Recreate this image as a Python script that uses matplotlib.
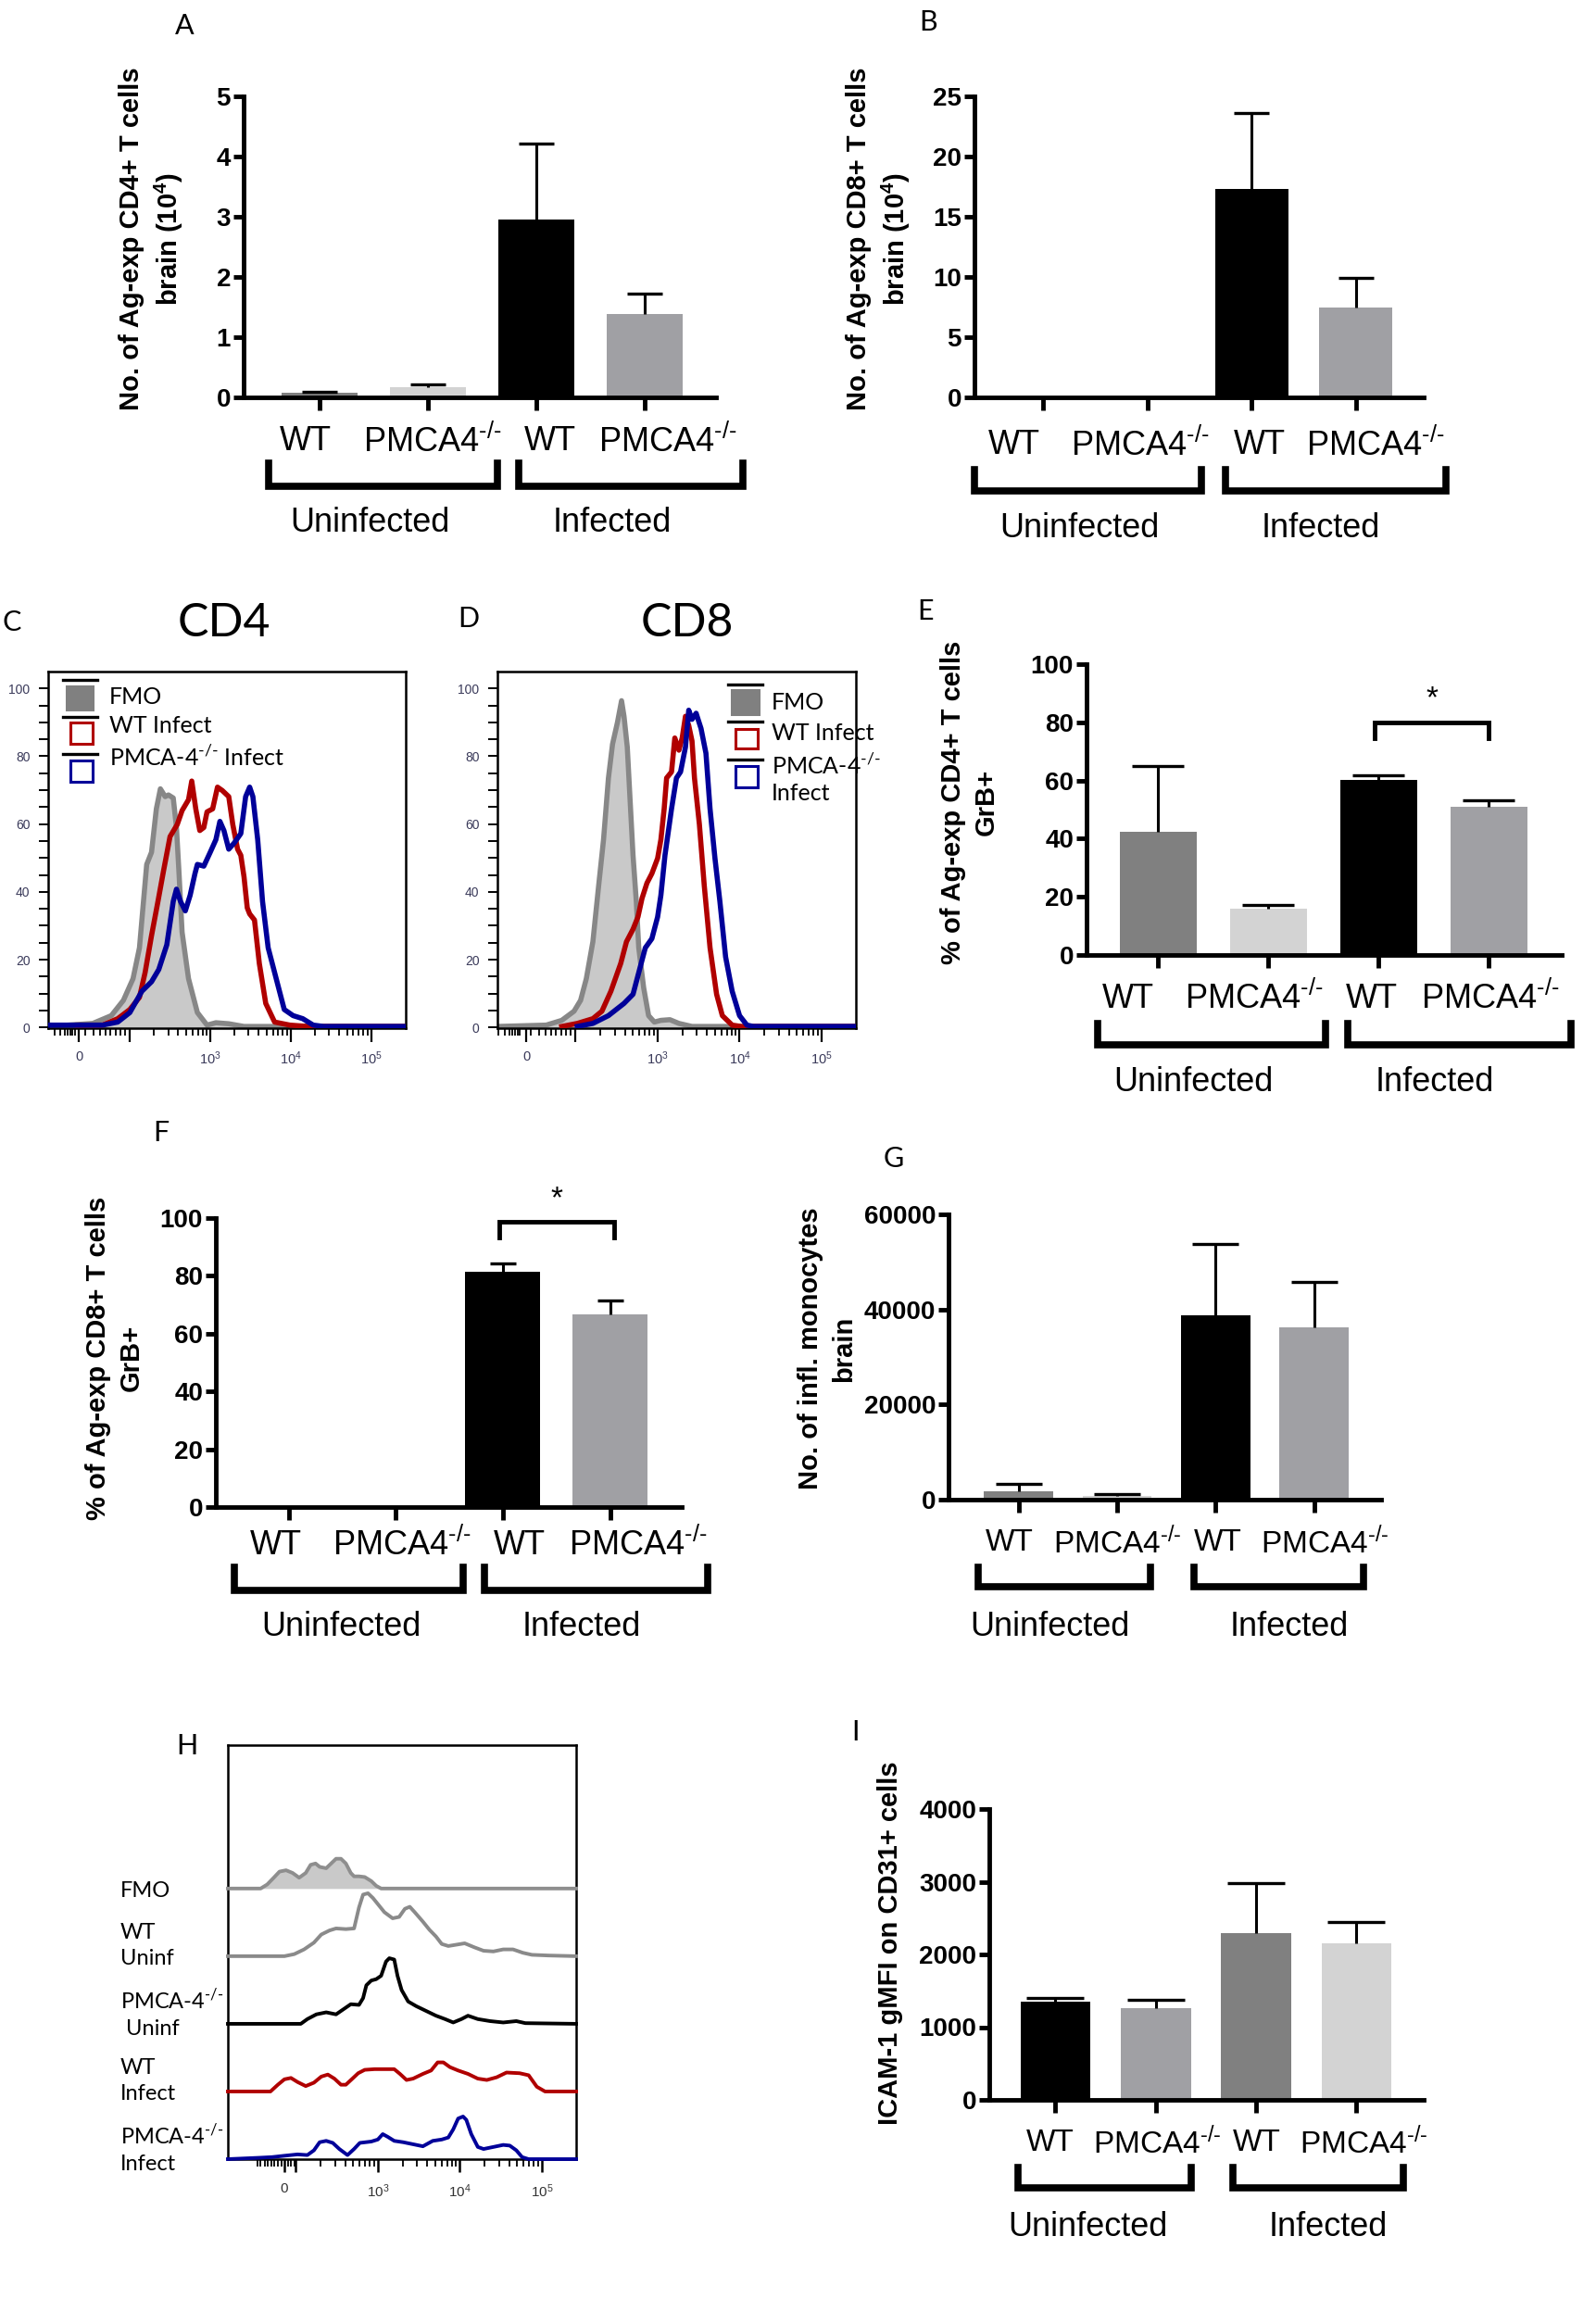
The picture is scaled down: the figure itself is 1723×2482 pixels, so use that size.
import numpy as np
import matplotlib
matplotlib.use("Agg")
import matplotlib.pyplot as plt
from matplotlib.patches import Rectangle
from matplotlib.lines import Line2D
import matplotlib.transforms as mtransforms

W, H = 1723, 2482

plt.rcParams['font.family'] = ['Liberation Sans', 'DejaVu Sans']
plt.rcParams['mathtext.fontset'] = 'custom'
plt.rcParams['mathtext.rm'] = 'Liberation Sans'
plt.rcParams['mathtext.bf'] = 'Liberation Sans:bold'
plt.rcParams['mathtext.it'] = 'Liberation Sans:italic'
SANS2 = ['Lato', 'DejaVu Sans']
KO = '$^{\\mathregular{\u2010/\u2010}}$'   # small "-/-" superscript

# ---------------- bar chart data ----------------
cats = ['WT', 'PMCA4' + KO, 'WT', 'PMCA4' + KO]
groups = ['Uninfected', 'Infected']

A_vals = [0.07, 0.17, 2.95, 1.38]
A_err = [0.03, 0.05, 1.27, 0.34]
B_vals = [0, 0, 17.3, 7.5]
B_err = [0, 0, 6.3, 2.4]
E_vals = [42.3, 16.0, 60.3, 50.9]
E_err = [22.8, 1.1, 1.6, 2.2]
F_vals = [0, 0, 81.3, 66.6]
F_err = [0, 0, 2.9, 4.8]
G_vals = [1800, 730, 38800, 36200]
G_err = [1450, 360, 14900, 9650]
I_vals = [1350, 1265, 2290, 2150]
I_err = [55, 110, 690, 290]

col_std = ['#808080', '#d3d3d3', '#000000', '#a0a0a4']
col_I = ['#000000', '#a0a0a4', '#808080', '#d3d3d3']

# ---------------- flow histograms (x in decades, y in % of max) ----------------
c_fmo_x = [0.99, 1.54, 1.77, 1.92, 2.04, 2.12, 2.17, 2.21, 2.27, 2.33, 2.38, 2.44, 2.48, 2.54, 2.58, 2.61,
           2.65, 2.73, 2.84, 2.96, 3.07, 3.23, 3.42, 5.43]
c_fmo_y = [0.3, 1.2, 3.5, 8.0, 14.4, 23.5, 37.2, 48.1, 51.7, 64.5, 70.4, 68.1, 68.6, 67.7, 59.0, 46.3,
           28.1, 14.4, 4.4, 0.7, 1.4, 1.1, 0.3, 0.3]
c_wt_x = [1.35, 1.66, 1.85, 2.0, 2.12, 2.19, 2.27, 2.35, 2.42, 2.50, 2.59, 2.65, 2.73, 2.77, 2.82, 2.87,
          2.92, 2.96, 3.03, 3.09, 3.15, 3.23, 3.28, 3.34, 3.38, 3.42, 3.46, 3.49, 3.55, 3.61, 3.69, 3.80,
          3.99, 4.22, 5.43]
c_wt_y = [0.7, 0.7, 2.6, 5.3, 8.9, 16.2, 27.1, 37.2, 46.3, 56.3, 59.9, 64.0, 67.2, 72.7, 64.5, 58.1,
          59.0, 63.6, 64.5, 70.9, 69.9, 68.1, 59.9, 52.6, 50.8, 44.4, 35.3, 33.5, 31.7, 18.9, 7.1, 1.6,
          0.7, 0.3, 0.3]
c_ko_x = [0.99, 1.66, 1.85, 2.0, 2.15, 2.27, 2.36, 2.46, 2.54, 2.58, 2.63, 2.69, 2.75, 2.81, 2.84, 2.92,
          3.0, 3.07, 3.12, 3.17, 3.23, 3.30, 3.38, 3.44, 3.49, 3.53, 3.59, 3.65, 3.72, 3.82, 3.92, 4.03,
          4.15, 4.28, 4.41, 5.43]
c_ko_y = [0.7, 0.7, 1.6, 4.4, 10.7, 13.5, 17.1, 24.4, 37.2, 40.8, 37.2, 34.4, 39.0, 45.4, 48.1, 47.6,
          51.7, 55.4, 60.8, 58.1, 52.6, 54.5, 57.2, 68.1, 70.9, 68.1, 55.4, 37.2, 23.5, 14.4, 5.3, 3.5,
          2.6, 0.7, 0.3, 0.3]

d_fmo_x = [1.05, 1.64, 1.83, 1.98, 2.06, 2.13, 2.21, 2.28, 2.34, 2.40, 2.45, 2.51, 2.56, 2.59, 2.63, 2.66,
           2.70, 2.74, 2.77, 2.83, 2.89, 2.96, 3.04, 3.15, 3.26, 3.42, 5.42]
d_fmo_y = [0.3, 0.7, 2.1, 4.8, 8.0, 14.4, 25.3, 41.7, 55.4, 73.6, 83.6, 90.0, 96.4, 91.8, 82.7, 69.0,
           50.8, 37.2, 23.5, 11.7, 3.5, 1.6, 2.1, 2.3, 1.2, 0.3, 0.3]
d_wt_x = [1.83, 2.02, 2.21, 2.32, 2.43, 2.55, 2.62, 2.70, 2.76, 2.81, 2.87, 2.93, 3.0, 3.04, 3.08, 3.11,
          3.17, 3.21, 3.26, 3.30, 3.34, 3.38, 3.42, 3.45, 3.51, 3.57, 3.64, 3.72, 3.79, 3.91, 4.02, 5.42]
d_wt_y = [0.3, 1.2, 2.6, 4.8, 10.7, 18.9, 25.3, 29.0, 32.6, 38.1, 42.6, 45.4, 49.9, 55.4, 64.5, 73.6,
          75.4, 85.4, 81.8, 85.4, 91.8, 89.1, 84.5, 73.6, 59.9, 41.7, 23.5, 9.8, 3.5, 0.7, 0.3, 0.3]
d_ko_x = [2.02, 2.21, 2.40, 2.59, 2.70, 2.77, 2.85, 2.93, 3.0, 3.04, 3.09, 3.17, 3.23, 3.28, 3.34, 3.38,
          3.42, 3.47, 3.53, 3.59, 3.64, 3.70, 3.76, 3.83, 3.91, 4.0, 4.09, 4.17, 5.42]
d_ko_y = [0.3, 1.2, 3.5, 7.1, 9.8, 16.2, 23.5, 26.2, 32.6, 39.0, 50.8, 64.5, 73.6, 75.4, 82.7, 93.6,
          90.9, 92.7, 88.2, 80.9, 64.5, 49.9, 37.2, 20.8, 10.7, 3.5, 0.7, 0.3, 0.3]

# panel H: offset histograms (height in row units)
h_names = ['FMO', 'WT\nUninf', 'PMCA-4' + KO + '\n Uninf', 'WT\nInfect', 'PMCA-4' + KO + '\nInfect']
h_fmo_x = [1.17, 1.57, 1.65, 1.73, 1.80, 1.88, 1.96, 2.04, 2.12, 2.18, 2.24, 2.29, 2.37, 2.43, 2.49, 2.55,
           2.61, 2.67, 2.71, 2.77, 2.84, 2.92, 2.98, 3.04, 5.42]
h_fmo_y = [0, 0, 0.06, 0.16, 0.25, 0.27, 0.23, 0.16, 0.23, 0.35, 0.37, 0.32, 0.30, 0.37, 0.44, 0.44,
           0.37, 0.23, 0.18, 0.18, 0.17, 0.11, 0.04, 0, 0]
h_wtu_x = [1.17, 1.86, 1.98, 2.10, 2.22, 2.31, 2.41, 2.49, 2.61, 2.71, 2.77, 2.82, 2.88, 2.94, 3.0, 3.08,
           3.18, 3.26, 3.33, 3.39, 3.45, 3.55, 3.63, 3.71, 3.78, 3.86, 3.96, 4.06, 4.18, 4.29, 4.41, 4.53,
           4.65, 4.77, 4.88, 5.08, 5.42]
h_wtu_y = [0, 0, 0.03, 0.10, 0.20, 0.32, 0.38, 0.41, 0.40, 0.41, 0.72, 0.91, 0.93, 0.86, 0.77, 0.65,
           0.56, 0.58, 0.70, 0.73, 0.65, 0.51, 0.39, 0.29, 0.18, 0.15, 0.17, 0.19, 0.13, 0.08, 0.07, 0.10,
           0.10, 0.05, 0.02, 0.01, 0]
h_kou_x = [1.17, 2.06, 2.14, 2.25, 2.37, 2.49, 2.61, 2.67, 2.77, 2.82, 2.86, 2.92, 2.98, 3.04, 3.10, 3.14,
           3.20, 3.24, 3.29, 3.37, 3.47, 3.59, 3.71, 3.82, 3.92, 4.02, 4.10, 4.22, 4.37, 4.53, 4.69, 4.80,
           5.42]
h_kou_y = [0, 0, 0.07, 0.14, 0.17, 0.14, 0.24, 0.29, 0.28, 0.38, 0.57, 0.64, 0.66, 0.71, 0.92, 0.97,
           0.95, 0.71, 0.50, 0.33, 0.26, 0.19, 0.12, 0.07, 0.02, 0.07, 0.12, 0.07, 0.04, 0.02, 0.04, 0.01,
           0]
h_wti_x = [1.17, 1.69, 1.78, 1.86, 1.94, 2.02, 2.12, 2.22, 2.31, 2.39, 2.47, 2.55, 2.61, 2.69, 2.76, 2.84,
           2.96, 3.20, 3.27, 3.35, 3.43, 3.55, 3.65, 3.73, 3.80, 3.88, 3.98, 4.10, 4.22, 4.33, 4.45, 4.57,
           4.73, 4.84, 4.94, 5.04, 5.42]
h_wti_y = [0, 0, 0.10, 0.18, 0.20, 0.14, 0.08, 0.13, 0.22, 0.25, 0.19, 0.10, 0.10, 0.19, 0.27, 0.32,
           0.33, 0.33, 0.26, 0.17, 0.19, 0.26, 0.31, 0.43, 0.43, 0.36, 0.31, 0.26, 0.19, 0.17, 0.21, 0.28,
           0.27, 0.24, 0.07, 0, 0]
h_koi_x = [1.17, 1.55, 1.71, 1.86, 2.02, 2.14, 2.22, 2.29, 2.37, 2.45, 2.53, 2.63, 2.71, 2.78, 2.92, 3.0,
           3.06, 3.12, 3.20, 3.31, 3.43, 3.55, 3.67, 3.78, 3.86, 3.92, 3.98, 4.04, 4.08, 4.14, 4.22, 4.29,
           4.41, 4.53, 4.61, 4.69, 4.76, 4.84, 5.42]
h_koi_y = [0, 0.02, 0.03, 0.05, 0.07, 0.06, 0.13, 0.25, 0.27, 0.24, 0.15, 0.06, 0.15, 0.24, 0.26, 0.29,
           0.37, 0.33, 0.27, 0.25, 0.22, 0.19, 0.27, 0.29, 0.32, 0.44, 0.60, 0.63, 0.58, 0.37, 0.18, 0.15,
           0.18, 0.21, 0.20, 0.13, 0.03, 0, 0]

fig = plt.figure(figsize=(W / 100, H / 100), dpi=100)


def add_ax(l, t, r, b):
    # box given in pixels of the final image
    return fig.add_axes([l / W, 1 - b / H, (r - l) / W, (b - t) / H])


def ftext(x, y, s, **kw):
    fig.text(x / W, 1 - y / H, s, **kw)


def bar_panel(rect, xlim, vals, errs, colors, ymax, yticks, capsize, lab_x, lab_y,
              br, grp_x, grp_y, ylabel, ylab_xy, sig=None, catsize=26):
    ax = add_ax(*rect)
    x = np.arange(len(vals))
    vals = np.array(vals, float)
    errs = np.array(errs, float)
    ax.bar(x, vals, width=0.7, color=colors, zorder=2)
    # upper error bars only (SEM)
    m = errs > 0
    ax.vlines(x[m], vals[m], vals[m] + errs[m], color='k', lw=2.2, zorder=3)
    ax.plot(x[m], vals[m] + errs[m], ls='none', marker='_', ms=2 * capsize, mew=2.4,
            color='k', zorder=3)
    ax.set_xlim(*xlim)
    ax.set_ylim(0, ymax)
    ax.patch.set_alpha(0)
    ax.spines[['top', 'right']].set_visible(False)
    for s in ['left', 'bottom']:
        ax.spines[s].set_linewidth(3.5)
    ax.set_yticks(yticks)
    ax.set_yticklabels([str(v) for v in yticks], fontweight='bold', fontsize=20)
    ax.tick_params(axis='y', direction='out', length=8, width=3.5, pad=2)
    ax.set_xticks(x)
    ax.set_xticklabels([])
    ax.tick_params(axis='x', direction='out', length=10, width=3.5)

    tr = mtransforms.blended_transform_factory(ax.transData, fig.transFigure)
    for xi, lab in zip(lab_x, cats):
        ax.text(xi, 1 - lab_y / H, lab, transform=tr, ha='center', va='center', fontsize=catsize)
    top, bot, spans = br
    for x0, x1 in spans:
        ax.add_line(Line2D([x0, x0, x1, x1], [1 - top / H, 1 - bot / H, 1 - bot / H, 1 - top / H],
                           transform=tr, color='k', lw=5.5, clip_on=False, solid_joinstyle='miter'))
    for gx, g in zip(grp_x, groups):
        ax.text(gx, 1 - grp_y / H, g, transform=tr, ha='center', va='center', fontsize=26)

    if sig is not None:
        s0, s1, sy, sleg, sstar = sig
        ax.plot([s0, s0, s1, s1], [sleg, sy, sy, sleg], color='k', lw=3.5, clip_on=False,
                solid_joinstyle='miter')
        ax.text((s0 + s1) / 2, sstar, '*', ha='center', va='center', fontsize=24, clip_on=False)

    ftext(ylab_xy[0], ylab_xy[1], ylabel, rotation=90, ha='center', va='center',
          fontweight='bold', fontsize=21, linespacing=1.35, multialignment='center')
    return ax


def flow_axes(rect, xlim, zero):
    ax = add_ax(*rect)
    ax.set_xlim(*xlim)
    ax.set_ylim(-0.2, 105)
    for sp in ax.spines.values():
        sp.set_linewidth(1.8)
    ax.set_yticks(np.arange(0, 101, 20))
    ax.set_yticks(np.arange(0, 101, 5), minor=True)
    ax.tick_params(axis='y', which='both', direction='out', length=7, width=1.4, pad=7,
                   labelsize=10, labelcolor='#3a3a5a')
    ax.set_xticks([zero, 2, 3, 4, 5])
    ax.set_xticklabels(['0', '', '$10^3$', '$10^4$', '$10^5$'])
    near0 = [1.06, 1.13, 1.19, 1.23, 1.26, 1.29, 1.32, 1.45, 1.55, 1.63, 1.70, 1.76, 1.82, 1.88, 1.94]
    logs = [n + np.log10(k) for n in (2, 3, 4) for k in range(2, 10)]
    ax.set_xticks([v for v in near0 + logs if xlim[0] < v < xlim[1]], minor=True)
    ax.tick_params(axis='x', which='major', direction='out', length=11, width=1.6, pad=6,
                   labelsize=10.5, labelcolor='#3a3a5a')
    ax.tick_params(axis='x', which='minor', direction='out', length=6, width=1.3)
    return ax


def draw_hist(ax, fx, fy, wx, wy, kx, ky):
    ax.fill_between(fx, 0, fy, color='#c9c9c9', lw=0, zorder=1)
    ax.plot(fx, fy, color='#878787', lw=4.0, zorder=2)
    ax.plot(wx, wy, color='#b00000', lw=4.0, zorder=3)
    ax.plot(kx, ky, color='#000099', lw=4.0, zorder=4)


def legend_block(ax, bars, squares, texts):
    for (x0, x1, y) in bars:
        ax.plot([x0, x1], [y, y], transform=ax.transAxes, color='k', lw=2.4, clip_on=False)
    for (x0, x1, y0, y1, fc, ec) in squares:
        ax.add_patch(Rectangle((x0, y0), x1 - x0, y1 - y0, transform=ax.transAxes, facecolor=fc,
                               edgecolor=ec, lw=2.2, clip_on=False))
    for (x, y, s) in texts:
        ax.text(x, y, s, transform=ax.transAxes, ha='left', va='center', fontsize=18,
                family=SANS2, clip_on=False, linespacing=1.3)


# ---------------- A ----------------
bar_panel((263, 104, 773, 429), (-0.70, 3.66), A_vals, A_err, col_std, 5, [0, 1, 2, 3, 4, 5], 14,
          [-0.13, 1.04, 2.13, 3.21], 477, (500, 525, [(-0.47, 1.64), (1.84, 3.91)]),
          [0.47, 2.70], 565, 'No. of Ag-exp CD4+ T cells\nbrain (10$^{\\mathregular{4}}$)', (164, 258))

# ---------------- B ----------------
bar_panel((1052, 104, 1537, 429), (-0.66, 3.65), B_vals, B_err, col_std, 25, [0, 5, 10, 15, 20, 25], 14,
          [-0.28, 0.93, 2.08, 3.19], 481, (507, 530, [(-0.66, 1.52), (1.75, 3.86)]),
          [0.35, 2.66], 570, 'No. of Ag-exp CD8+ T cells\nbrain (10$^{\\mathregular{4}}$)', (949, 258))

# ---------------- C ----------------
axC = flow_axes((52, 725, 438, 1110), (0.985, 5.43), 1.37)
draw_hist(axC, c_fmo_x, c_fmo_y, c_wt_x, c_wt_y, c_ko_x, c_ko_y)
legend_block(axC,
             [(0.041, 0.137, 0.977), (0.041, 0.137, 0.873), (0.041, 0.137, 0.769)],
             [(0.052, 0.124, 0.894, 0.958, '#808080', '#808080'),
              (0.062, 0.124, 0.797, 0.857, 'none', '#b00000'),
              (0.062, 0.124, 0.691, 0.751, 'none', '#000099')],
             [(0.171, 0.928, 'FMO'), (0.171, 0.847, 'WT Infect'),
              (0.171, 0.760, 'PMCA-4' + KO + ' Infect')])
ftext(242, 673, 'CD4', ha='center', va='center', fontsize=36, family=SANS2)
ftext(13, 672, 'C', ha='center', va='center', fontsize=22, family=SANS2)

# ---------------- D ----------------
axD = flow_axes((537, 725, 924, 1110), (1.045, 5.42), 1.40)
draw_hist(axD, d_fmo_x, d_fmo_y, d_wt_x, d_wt_y, d_ko_x, d_ko_y)
legend_block(axD,
             [(0.643, 0.739, 0.964), (0.643, 0.739, 0.860), (0.643, 0.739, 0.753)],
             [(0.654, 0.729, 0.881, 0.948, '#808080', '#808080'),
              (0.664, 0.726, 0.784, 0.839, 'none', '#b00000'),
              (0.664, 0.726, 0.675, 0.735, 'none', '#000099')],
             [(0.765, 0.914, 'FMO'), (0.765, 0.826, 'WT Infect'),
              (0.765, 0.700, 'PMCA-4' + KO + '\nInfect')])
ftext(742, 673, 'CD8', ha='center', va='center', fontsize=36, family=SANS2)
ftext(506, 668, 'D', ha='center', va='center', fontsize=22, family=SANS2)

# ---------------- E ----------------
bar_panel((1173, 717, 1686, 1031), (-0.65, 3.66), E_vals, E_err, col_std, 100, [0, 20, 40, 60, 80, 100], 20,
          [-0.27, 0.87, 1.94, 3.01], 1078, (1105, 1128, [(-0.55, 1.52), (1.72, 3.74)]),
          [0.32, 2.51], 1168, '% of Ag-exp CD4+ T cells\nGrB+', (1047, 866),
          sig=(1.96, 3.0, 80, 74.5, 88))

# ---------------- F ----------------
bar_panel((233, 1315, 736, 1627), (-0.68, 3.67), F_vals, F_err, col_std, 100, [0, 20, 40, 60, 80, 100], 10,
          [-0.12, 1.06, 2.16, 3.26], 1668, (1692, 1717, [(-0.51, 1.63), (1.83, 3.91)]),
          [0.49, 2.73], 1756, '% of Ag-exp CD8+ T cells\nGrB+', (124, 1466),
          sig=(1.97, 3.04, 98.8, 93.2, 106.6))

# ---------------- G ----------------
bar_panel((1024, 1311, 1491, 1619), (-0.71, 3.68), G_vals, G_err, col_std, 60000, [0, 20000, 40000, 60000], 18,
          [-0.09, 1.0, 2.02, 3.11], 1666, (1692, 1713, [(-0.41, 1.34), (1.78, 3.50)]),
          [0.32, 2.75], 1756, 'No. of infl. monocytes\nbrain', (893, 1456), catsize=24)

# ---------------- H ----------------
axH = add_ax(246, 1884, 622, 2331)
axH.set_xlim(1.17, 5.42)
axH.set_ylim(0, 6.12)
for sp in axH.spines.values():
    sp.set_linewidth(1.8)
axH.set_yticks([])
axH.set_xticks([1.86, 2, 3, 4, 5])
axH.set_xticklabels(['0', '', '$10^3$', '$10^4$', '$10^5$'])
h_minor = [1.53, 1.57, 1.62, 1.66, 1.70, 1.74, 1.78, 1.82, 1.90, 1.94, 1.98] + \
          [n + np.log10(k) for n in (2, 3, 4) for k in range(2, 10)]
axH.set_xticks(h_minor, minor=True)
axH.tick_params(axis='x', which='major', direction='out', length=10, width=1.8, pad=8,
                labelsize=11, labelcolor='#333333')
axH.tick_params(axis='x', which='minor', direction='out', length=6, width=1.3)

h_traces = [(h_fmo_x, h_fmo_y, '#8e8e8e'), (h_wtu_x, h_wtu_y, '#8a8a8a'),
            (h_kou_x, h_kou_y, '#000000'), (h_wti_x, h_wti_y, '#b00000'),
            (h_koi_x, h_koi_y, '#000099')]
trH = mtransforms.blended_transform_factory(fig.transFigure, axH.transData)
for i, (hx, hy, c) in enumerate(h_traces):
    off = 4 - i
    hy = np.array(hy) + off
    if i == 0:
        axH.fill_between(hx, off, hy, color='#c9c9c9', lw=0, zorder=1)
    axH.plot(hx, hy, color=c, lw=2.8, zorder=3, clip_on=False)
    if i == 0:
        axH.text(130 / W, off - 0.04, h_names[i], transform=trH, ha='left', va='center',
                 fontsize=17, family=SANS2)
    else:
        axH.text(130 / W, off + 0.16, h_names[i], transform=trH, ha='left', va='center',
                 fontsize=17, family=SANS2, linespacing=1.4)

# ---------------- I ----------------
bar_panel((1068, 1953, 1537, 2267), (-0.66, 3.67), I_vals, I_err, col_I, 4000, [0, 1000, 2000, 3000, 4000], 22,
          [-0.05, 1.01, 2.01, 3.07], 2314, (2340, 2362, [(-0.37, 1.35), (1.77, 3.47)]),
          [0.32, 2.72], 2404, 'ICAM-1 gMFI on CD31+ cells', (961, 2098), catsize=24)

# panel letters
for lab, (lx, ly) in {'A': (199, 28), 'B': (1002, 24), 'E': (999, 660), 'F': (174, 1223),
                      'G': (965, 1251), 'H': (202, 1885), 'I': (923, 1870)}.items():
    ftext(lx, ly, lab, ha='center', va='center', fontsize=22, family=SANS2)

fig.savefig('out.png', dpi=100)
